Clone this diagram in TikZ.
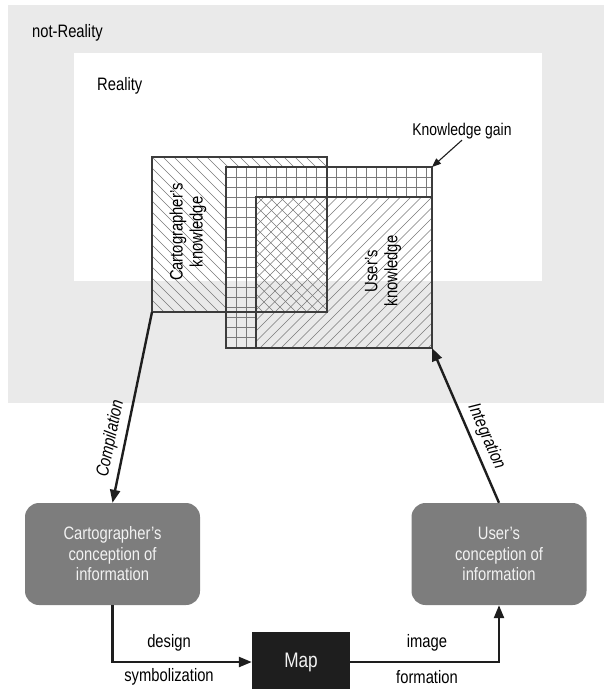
\documentclass[tikz,border=0pt]{standalone}
\usepackage{fontspec}
\setmainfont{Liberation Sans}[FakeStretch=0.82]
\usetikzlibrary{arrows.meta}
\definecolor{bggray}{HTML}{EAEAEA}
\definecolor{boxline}{HTML}{3C3C3C}
\definecolor{hatchcol}{HTML}{7A7A7A}
\definecolor{concgray}{HTML}{7D7D7D}
\definecolor{conctext}{HTML}{F2F2F2}
\definecolor{mapfill}{HTML}{1E1E1E}
\definecolor{arrowcol}{HTML}{1E1E1E}
\begin{document}
\begin{tikzpicture}[x=1pt,y=-1pt,
  area/.style={rectangle, inner sep=0pt, outer sep=0pt, anchor=north west},
  kbox/.style={area, draw=boxline, line width=1.4pt},
  hatchline/.style={draw=hatchcol, line width=0.6pt},
  lbl/.style={font=\fontsize{18}{20}\selectfont, text=black, inner sep=1pt},
  ilbl/.style={font=\fontsize{18}{20}\selectfont\itshape, text=black, inner sep=1pt},
  conc/.style={rectangle, rounded corners=14pt, fill=concgray, text=conctext, align=center,
    font=\fontsize{18}{20.5}\selectfont, minimum width=175pt, minimum height=102pt, inner sep=0pt},
  flow/.style={line width=2.4pt, draw=arrowcol, -{Triangle[length=13pt,width=10pt]}},
]
\useasboundingbox (0,0) rectangle (604,689);

% backgrounds
\node[area, fill=bggray, minimum width=596pt, minimum height=398pt] (notreal) at (8,5) {};
\node[area, fill=white, minimum width=468pt, minimum height=228pt] (real) at (74,53) {};

% cartographer's knowledge hatching (\)
\begin{scope}
  \clip (152,157) rectangle (226,312) (226,157) rectangle (327,167) (256,197) rectangle (327,312);
  \foreach \a in {-20,-9,...,340} \draw[hatchline] (\a,150) -- ++(220,220);
\end{scope}
% user's knowledge hatching (/)
\begin{scope}
  \clip (256,197) rectangle (432,348);
  \foreach \a in {250,260.5,...,620} \draw[hatchline] (\a,190) -- ++(-200,200);
\end{scope}
% knowledge gain grid
\begin{scope}
  \clip (226,167) rectangle (432,197) (226,197) rectangle (256,348);
  \foreach \x in {236,246,...,426} \draw[hatchline] (\x,160) -- (\x,350);
  \foreach \y in {177,187,...,347} \draw[hatchline] (220,\y) -- (440,\y);
\end{scope}

% outlines
\node[kbox, minimum width=175pt, minimum height=155pt] (ck) at (152,157) {};
\node[kbox, minimum width=206pt, minimum height=181pt] (gain) at (226,167) {};
\node[kbox, minimum width=176pt, minimum height=151pt] (uk) at (256,197) {};

% texts
\node[lbl, rotate=90, align=center] (cktext) at (188,232) {Cartographer’s\\knowledge};
\node[lbl, rotate=90, align=center] (uktext) at (383,271) {User’s\\knowledge};
\node[lbl, anchor=west] (nrlabel) at (31,33) {not-Reality};
\node[lbl, anchor=west] (rlabel) at (96,86) {Reality};
\node[lbl, font=\fontsize{17}{20}\selectfont] (kg) at (462,131) {Knowledge gain};
\draw[line width=1.1pt, draw=arrowcol, -{Triangle[length=9pt,width=7pt]}] (kg.south) -- (gain.north east);

% bottom boxes
\node[conc] (cc) at (112.5,554) {Cartographer’s\\conception of\\information};
\node[conc] (uc) at (499,554) {User’s\\conception of\\information};
\node[rectangle, fill=mapfill, text=conctext, minimum width=98pt, minimum height=60pt, inner sep=0pt,
  font=\fontsize{21}{24}\selectfont] (map) at (301,662) {Map};

% connectors
\draw[flow] (ck.south west) -- node[pos=0.68, sloped, above=4pt, ilbl] (complbl) {Compilation} (cc.north);
\draw[flow] (uc.north) -- node[pos=0.39, sloped, above=4pt, ilbl] (intlbl) {Integration} (uk.south east);
\draw[flow] (cc.south) |- (map.west);
\draw[flow] (map.east) -| (uc.south);
\node[lbl] (design) at (169,643) {design};
\node[lbl] (symb) at (169,677) {symbolization};
\node[lbl] (image) at (427,643) {image};
\node[lbl] (form) at (427,677) {formation};
\end{tikzpicture}
\end{document}
